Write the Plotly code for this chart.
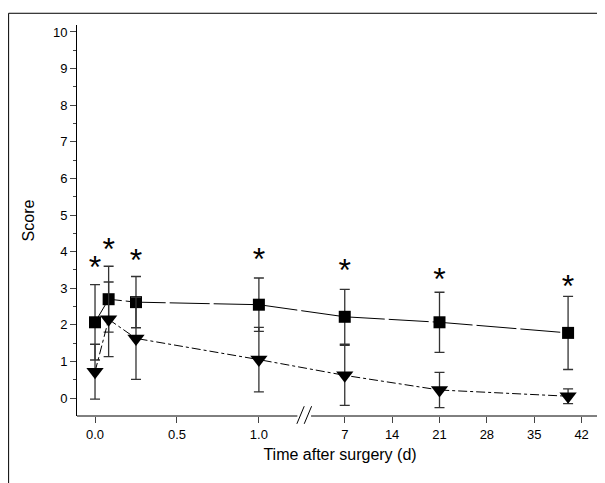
import plotly.graph_objects as go

# time in days
t = [0, 0.083, 0.25, 1.0, 7, 21, 40]
sq_mean = [2.07, 2.70, 2.62, 2.55, 2.22, 2.07, 1.78]
sq_err = [1.03, 0.90, 0.70, 0.73, 0.75, 0.82, 1.00]
tri_mean = [0.72, 2.15, 1.63, 1.05, 0.62, 0.22, 0.05]
tri_err = [0.75, 1.02, 1.12, 0.88, 0.82, 0.48, 0.20]
star_y = [3.50, 4.00, 3.70, 3.72, 3.42, 3.18, 2.98]
left_ticks = [0.0, 0.5, 1.0]
right_ticks = [7, 14, 21, 28, 35, 42]


def pos(d):
    # broken axis: 0..1.3 linear, then day scale compressed
    return d if d <= 1.3 else 1.524 + (d - 7) * 0.0413


x = [pos(d) for d in t]
tickvals = [pos(v) for v in left_ticks] + [pos(v) for v in right_ticks]
ticktext = [f"{v:.1f}" for v in left_ticks] + [str(v) for v in right_ticks]

fig = go.Figure()
fig.add_trace(go.Scatter(
    x=x, y=sq_mean, mode="lines+markers",
    line=dict(color="black", width=1, dash="40px,4px"),
    marker=dict(symbol="square", size=12, color="black"),
    error_y=dict(type="data", array=sq_err, color="#333", thickness=1.3, width=5),
))
fig.add_trace(go.Scatter(
    x=x, y=tri_mean, mode="lines+markers",
    line=dict(color="black", width=1, dash="dashdot"),
    marker=dict(symbol="triangle-down", size=15, color="black"),
    error_y=dict(type="data", array=tri_err, color="#333", thickness=1.3, width=5),
))
fig.add_trace(go.Scatter(
    x=x, y=star_y, mode="text", text=["*"] * len(t),
    textfont=dict(size=32, color="black", family="Liberation Sans"),
))

# bottom axis with break
fig.add_shape(type="line", xref="paper", yref="paper", x0=0, x1=0.419, y0=0, y1=0,
              line=dict(color="black", width=1))
fig.add_shape(type="line", xref="paper", yref="paper", x0=0.445, x1=1, y0=0, y1=0,
              line=dict(color="black", width=1))
for dx in (0.418, 0.432):
    fig.add_shape(type="line", xref="paper", yref="paper", x0=dx, x1=dx + 0.014,
                  y0=-0.02, y1=0.025, line=dict(color="black", width=1))
# outer frame
fig.add_shape(type="rect", xref="paper", yref="paper", x0=-0.13, x1=1.0, y0=-0.19, y1=1.03,
              line=dict(color="black", width=1))

fig.update_layout(
    width=605, height=483, showlegend=False,
    margin=dict(l=69, r=10, t=17, b=75),
    plot_bgcolor="white", paper_bgcolor="white",
    font=dict(family="Liberation Sans", size=13, color="black"),
)
fig.update_xaxes(
    range=[-0.11, 3.10], tickvals=tickvals, ticktext=ticktext,
    ticks="outside", ticklen=6, showgrid=False, zeroline=False, showline=False,
    title=dict(text="Time after surgery (d)", font=dict(size=16), standoff=8),
)
fig.update_yaxes(
    range=[-0.49, 10.19], dtick=1, ticks="outside", ticklen=6,
    minor=dict(dtick=0.5, ticks="outside", ticklen=3),
    showgrid=False, zeroline=False, showline=True, linecolor="black",
    title=dict(text="Score", font=dict(size=16), standoff=14),
)

fig.write_html("out.html")
